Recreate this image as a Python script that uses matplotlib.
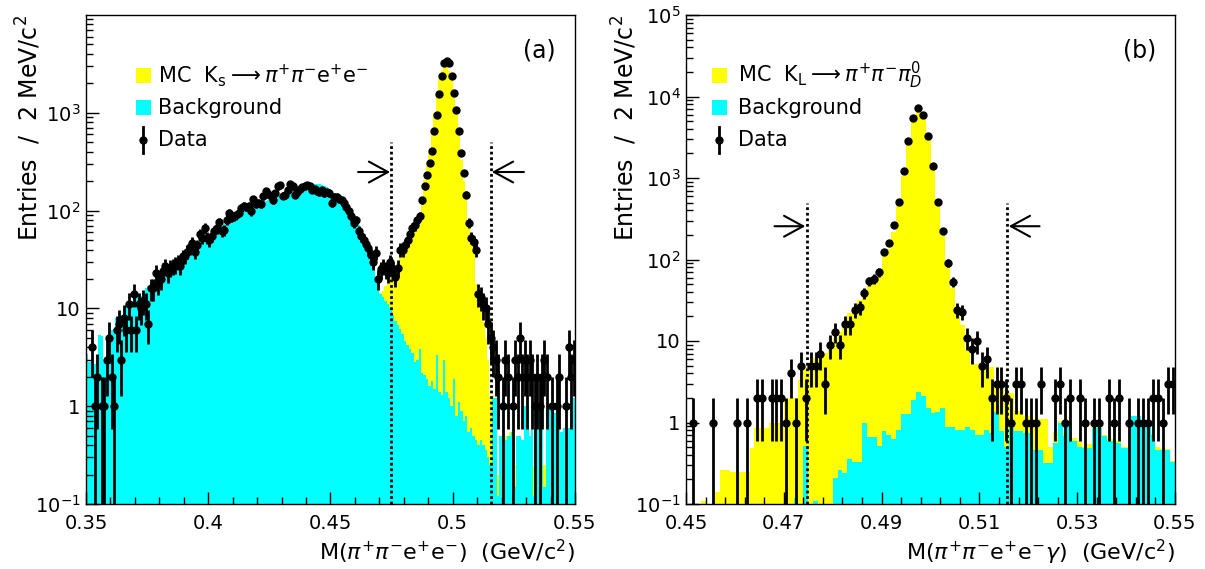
import numpy as np
import matplotlib
matplotlib.use('Agg')
import matplotlib.pyplot as plt
from matplotlib.patches import Rectangle
from matplotlib.ticker import FixedLocator, FixedFormatter, LogLocator, NullFormatter, FuncFormatter

# ---------------- panel (a): M(pi+ pi- e+ e-), 1 MeV bins 0.350-0.550 ----------------
data_a = [0, 0, 4, 1, 2, 0, 1, 1, 3, 5,
          2, 1, 6, 7, 3, 8, 6, 11, 6, 14,
          6, 11, 10, 12, 11, 7, 16, 16, 23, 18,
          20, 24, 27, 23, 26, 27, 28, 30, 27, 34,
          34, 38, 42, 47, 38, 44, 57, 53, 66, 53,
          50, 55, 62, 66, 76, 62, 63, 81, 95, 85,
          88, 90, 95, 106, 112, 110, 112, 98, 131, 118,
          121, 118, 140, 157, 148, 140, 127, 151, 177, 184,
          142, 145, 164, 186, 177, 146, 154, 166, 174, 177,
          184, 180, 164, 166, 157, 154, 162, 151, 155, 150,
          119, 139, 139, 130, 128, 119, 110, 100, 88, 75,
          80, 62, 55, 50, 46, 41, 35, 30, 37, 20,
          25, 27, 25, 23, 30, 25, 21, 26, 40, 40,
          45, 50, 58, 66, 71, 80, 88, 128, 177, 233,
          308, 405, 650, 960, 1540, 2370, 3250, 3380, 3250, 2370,
          1600, 1080, 650, 390, 243, 146, 75, 53, 48, 40,
          14, 13, 11, 10, 7, 5, 4, 3, 2, 0,
          1, 3, 2, 0, 1, 3, 2, 5, 2, 3,
          2, 3, 2, 1, 2, 1, 2, 3, 2, 0,
          1, 0, 1, 2, 0, 0, 1, 4, 2, 3]

bkg_a = [3.4, 2.8, 2.8, 2.7, 3.0, 5.4, 5.2, 2.8, 2.9, 7.0,
         6.0, 6.2, 8.0, 7.8, 8.5, 10, 10.5, 11, 11.5, 12,
         13, 13, 13.5, 14.5, 16, 17, 17.5, 19, 20, 21,
         22, 23, 24.5, 26, 27, 28.5, 30, 31.5, 33, 35,
         36, 38, 40, 42, 44, 46, 48, 50, 52, 54,
         55, 58, 61, 64, 67, 70, 73, 76, 78, 81,
         84, 87, 90, 93, 96, 99, 102, 105, 108, 111,
         114, 117, 120, 124, 127, 130, 134, 138, 142, 146,
         150, 154, 158, 163, 168, 172, 176, 180, 184, 187,
         189, 190, 190, 189, 187, 185, 182, 178, 173, 166,
         160, 153, 146, 140, 134, 127, 119, 108, 96, 88,
         80, 72, 65, 58, 50, 44, 37, 28, 20, 16,
         14, 13, 12, 11, 10, 8.5, 7.5, 6.8, 6.2, 5.5,
         4.6, 4.2, 3.8, 3.5, 2.8, 3.0, 3.8, 2.2, 2.1, 1.9,
         1.6, 1.8, 1.5, 3.3, 1.4, 1.3, 3.0, 1.4, 1.2, 1.0,
         1.9, 0.8, 1.1, 0.9, 0.7, 0.8, 0.55, 0.6, 0.5, 0.45,
         0.4, 0.45, 0.4, 0.36, 0.3, 0.25, 1.2, 1.2, 0.12, 0.5,
         0.5, 0.45, 0.5, 0.5, 0.55, 0.15, 0.5, 0.5, 0.45, 1.0,
         1.0, 0.5, 0.6, 0.12, 0.62, 1.0, 1.0, 0.15, 1.0, 1.0,
         0.12, 0.85, 0.85, 0.6, 0.55, 0.6, 0.15, 0.6, 1.2, 1.2]

sig_a = [0] * 120 + [
         0.5, 2, 5, 9, 13, 16.5, 20.5, 24, 28, 34.5,
         41, 46, 52, 58, 66, 77, 90, 137, 203, 288,
         398, 663, 998, 1497, 2200, 2700, 3000, 3000, 2700, 2300,
         1700, 1110, 615, 330, 200, 130, 75, 55, 45, 17.5,
         13.6, 9.5, 6.8, 4.6, 2.7, 1.0, 0.1, 0, 0.08, 0,
         0.05, 0.05, 0, 0.05, 0, 0.1, 0, 0, 0, 0,
         0, 0, 0, 0.12, 0, 0, 0, 0.1, 0, 0,
         0, 0, 0, 0, 0, 0, 0, 0, 0, 0]

# ---------------- panel (b): M(pi+ pi- e+ e- gamma), 1 MeV bins 0.450-0.550 ----------------
data_b = [0, 1, 0, 0, 0, 1, 0, 0, 0, 0,
          1, 0, 1, 0, 2, 2, 0, 2, 2, 2,
          1, 4, 1, 5, 2, 5, 5, 7, 3, 9,
          13, 9, 16, 16, 24, 26, 39, 54, 58, 70,
          124, 159, 267, 513, 1230, 2820, 5420, 7200, 5970, 3300,
          1390, 513, 226, 91, 53, 24, 23, 11, 8, 10,
          5, 6, 2, 3, 3, 2, 1, 3, 3, 1,
          1, 1, 3, 0, 0, 2, 3, 1, 2, 0,
          2, 1, 0, 1, 1, 0, 2, 1, 2, 0,
          1, 0, 1, 1, 1, 2, 2, 1, 3, 3]

bkg_b = [0, 0, 0, 0, 0, 0, 0, 0, 0, 0,
         0, 0, 0, 0, 0, 0, 0, 0, 0, 0,
         0, 0, 0.12, 0, 0.52, 0, 0.11, 0, 0, 0,
         0.21, 0.26, 0.24, 0.36, 0.33, 0.33, 1.0, 0.66, 0.66, 0.52,
         0.79, 0.7, 0.62, 0.82, 1.26, 1.26, 1.9, 2.4, 2.1, 1.5,
         1.3, 1.36, 1.5, 0.89, 0.89, 0.81, 0.81, 0.89, 0.81, 0.71,
         0.71, 0.81, 0.75, 1.36, 0.78, 0.5, 0.98, 0.78, 0.78, 0.75,
         0.75, 0.46, 0.46, 0.32, 0.32, 0.56, 0.98, 0.68, 0.98, 0.6,
         0.5, 0.48, 0.48, 0.86, 0.86, 0.68, 0.6, 0.6, 0.56, 0.48,
         0.48, 1.2, 1.2, 0.93, 0.93, 0.71, 0.46, 0.46, 0.46, 0.33]

sig_b = [0, 0, 0, 0.11, 0.09, 0, 0.14, 0.26, 0.26, 0.25,
         0.25, 0.25, 0.25, 0.48, 0.85, 0.85, 0.85, 1.0, 1.0, 1.0,
         1.9, 2.0, 1.9, 3.3, 4.3, 5.3, 6.1, 6.2, 7.2, 8.5,
         10.8, 12.7, 16.8, 21.6, 25.7, 31.7, 39, 52, 60, 75,
         111, 135, 217, 459, 1070, 2600, 5300, 6400, 5300, 3450,
         1350, 549, 216, 93, 44, 25, 15, 6.9, 4.4, 4.5,
         4.7, 4.1, 4.1, 1.6, 2.2, 1.8, 1.3, 0.6, 0.6, 0.45,
         0.45, 0.64, 0.64, 0.78, 0.18, 0.2, 0.07, 0.07, 0.07, 0.05,
         0.1, 0.02, 0.07, 0.04, 0.04, 0.02, 0.05, 0.02, 0.04, 0.02,
         0.02, 0, 0, 0.02, 0.02, 0.01, 0.04, 0.01, 0.01, 0.01]

# signal window cuts
cut_lo, cut_hi = 0.4747, 0.5157

YELLOW = '#ffff00'
CYAN = '#00ffff'


def draw_panel(ax, lo, hi, data, bkg, sig):
    nb = len(data)
    edges = np.linspace(lo, hi, nb + 1)
    centers = 0.5 * (edges[1:] + edges[:-1])
    bkg = np.array(bkg, float)
    tot = bkg + np.array(sig, float)
    # yellow = MC total, cyan = background drawn over it
    ax.stairs(np.where(tot > 0, tot, 1e-4), edges, fill=True, color=YELLOW, baseline=1e-4, lw=0)
    ax.stairs(np.where(bkg > 0, bkg, 1e-4), edges, fill=True, color=CYAN, baseline=1e-4, lw=0)
    n = np.array(data, float)
    m = n > 0
    err = np.sqrt(n[m])
    lower = np.minimum(err, n[m] - 1e-4)
    ax.errorbar(centers[m], n[m], yerr=[lower, err], fmt='o', color='k', ms=5,
                elinewidth=2, capsize=0, zorder=5)


def style_axis(ax, lo, hi, ytop, ydecades, xmajor, xminor, xlabel):
    ax.set_yscale('log')
    ax.set_xlim(lo, hi)
    ax.set_ylim(0.1, ytop)
    nmaj = int(round((hi - lo) / xmajor))
    nmin = int(round((hi - lo) / xminor))
    ax.xaxis.set_major_locator(FixedLocator(lo + xmajor * np.arange(nmaj + 1)))
    ax.xaxis.set_minor_locator(FixedLocator(lo + xminor * np.arange(nmin + 1)))
    ax.xaxis.set_major_formatter(FuncFormatter(lambda v, p: ('%.3f' % v).rstrip('0')))
    ax.yaxis.set_major_locator(FixedLocator(ydecades))
    labs = []
    for d in ydecades:
        if d == 1:
            labs.append('1')
        elif d == 10:
            labs.append('10')
        else:
            labs.append(r'$10^{%d}$' % int(round(np.log10(d))))
    ax.yaxis.set_major_formatter(FixedFormatter(labs))
    ax.yaxis.set_minor_locator(LogLocator(base=10, subs=np.arange(2, 10), numticks=20))
    ax.yaxis.set_minor_formatter(NullFormatter())
    ax.tick_params(which='both', direction='in', top=False, right=False, labelsize=14, width=1)
    ax.tick_params(which='major', length=9)
    ax.tick_params(which='minor', length=5)
    ax.tick_params(axis='x', which='major', pad=7)
    ax.tick_params(axis='y', which='major', pad=4)
    for s in ax.spines.values():
        s.set_linewidth(1)
    ax.set_ylabel(r'Entries  /  2 MeV/c$^2$', fontsize=17, loc='top')
    ax.set_xlabel(xlabel, fontsize=16, loc='right')


def cut_marks(ax, yarrow, span):
    for xc in (cut_lo, cut_hi):
        ax.plot([xc, xc], [0.1, 500], color='k', lw=2, ls=(0, (1, 1)), zorder=6)
    style = dict(arrowstyle='->,head_length=0.55,head_width=0.3', color='k', lw=1.5,
                 mutation_scale=25, shrinkA=0, shrinkB=0)
    ax.annotate('', xy=(cut_lo - 0.0003, yarrow), xytext=(cut_lo - span, yarrow),
                arrowprops=style, zorder=6)
    ax.annotate('', xy=(cut_hi + 0.0003, yarrow), xytext=(cut_hi + span, yarrow),
                arrowprops=style, zorder=6)


def legend(ax, x0, xtext, label):
    rows = [0.877, 0.810, 0.744]
    w, h = 0.030, 0.031
    ax.add_patch(Rectangle((x0, rows[0] - h / 2), w, h, transform=ax.transAxes, color=YELLOW, lw=0))
    ax.add_patch(Rectangle((x0, rows[1] - h / 2), w, h, transform=ax.transAxes, color=CYAN, lw=0))
    xm = x0 + w / 2
    ax.plot([xm, xm], [rows[2] - 0.026, rows[2] + 0.026], transform=ax.transAxes, color='k', lw=2)
    ax.plot([xm], [rows[2]], 'o', transform=ax.transAxes, color='k', ms=5)
    ax.text(xtext, rows[0], label, transform=ax.transAxes, fontsize=15, va='center')
    ax.text(xtext, rows[1], 'Background', transform=ax.transAxes, fontsize=15, va='center')
    ax.text(xtext, rows[2], 'Data', transform=ax.transAxes, fontsize=15, va='center')


fig = plt.figure(figsize=(12.05, 5.69), dpi=100)
axa = fig.add_axes([86 / 1205, 65 / 569, 489 / 1205, 489 / 569])
axb = fig.add_axes([686 / 1205, 65 / 569, 489 / 1205, 489 / 569])

draw_panel(axa, 0.35, 0.55, data_a, bkg_a, sig_a)
cut_marks(axa, 248, 0.0134)
style_axis(axa, 0.35, 0.55, 1e4, [0.1, 1, 10, 100, 1000], 0.05, 0.01,
           r'M($\pi^{+}\pi^{-}$e$^{+}$e$^{-}$)  (GeV/c$^2$)')
legend(axa, 0.102, 0.147, r'MC  K$_\mathrm{s}$$\longrightarrow$$\pi^{+}\pi^{-}$e$^{+}$e$^{-}$')
axa.text(0.928, 0.928, '(a)', transform=axa.transAxes, fontsize=17, ha='center', va='center')
axa.yaxis.set_label_coords(-0.088, 1.0)
axa.xaxis.set_label_coords(1.0, -0.07)

draw_panel(axb, 0.45, 0.55, data_b, bkg_b, sig_b)
cut_marks(axb, 256, 0.0066)
style_axis(axb, 0.45, 0.55, 1e5, [0.1, 1, 10, 100, 1000, 1e4, 1e5], 0.02, 0.004,
           r'M($\pi^{+}\pi^{-}$e$^{+}$e$^{-}\gamma$)  (GeV/c$^2$)')
legend(axb, 0.053, 0.106, r'MC  K$_\mathrm{L}$$\longrightarrow$$\pi^{+}\pi^{-}\pi^{0}_{D}$')
axb.text(0.928, 0.928, '(b)', transform=axb.transAxes, fontsize=17, ha='center', va='center')
axb.yaxis.set_label_coords(-0.096, 1.0)
axb.xaxis.set_label_coords(1.0, -0.07)

fig.savefig('out.png', dpi=100)
